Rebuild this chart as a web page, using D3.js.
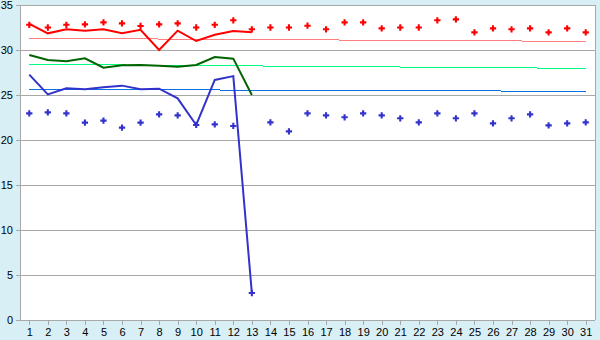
<!DOCTYPE html>
<html>
<head>
<meta charset="utf-8">
<script src="https://cdn.jsdelivr.net/npm/d3@7"></script>
<style>
  body { margin: 0; background: #d9eff6; }
  svg { display: block; }
  .axis text { font-family: "Liberation Sans", Arial, sans-serif; font-size: 11px; fill: #000; }
  .axis path, .axis line { stroke: #a8a8a8; shape-rendering: crispEdges; }
</style>
</head>
<body>
<svg></svg>
<script>
let days = d3.range(1, 32);
let yTicks = [0, 5, 10, 15, 20, 25, 30, 35];

// scattered markers, one per day
let redPoints = [32.8, 32.5, 32.8, 32.85, 33.07, 32.96, 32.67, 32.85, 32.96, 32.5,
  32.8, 33.3, 32.3, 32.5, 32.5, 32.7, 32.3, 33.07, 33.07, 32.4,
  32.5, 32.5, 33.3, 33.4, 31.96, 32.4, 32.3, 32.4, 31.96, 32.4, 31.96];
let bluePoints = [22.96, 23.07, 22.96, 21.93, 22.15, 21.37, 21.93, 22.85, 22.74, 21.67,
  21.74, 21.56, 3.0, 21.96, 20.96, 22.96, 22.74, 22.52, 22.96, 22.74,
  22.41, 21.96, 22.96, 22.41, 22.96, 21.85, 22.41, 22.85, 21.63, 21.85, 21.96];

// thick lines, days 1-13
let redLine = [32.9, 31.85, 32.3, 32.15, 32.3, 31.85, 32.25, 30.0, 32.15, 31.0, 31.7, 32.1, 31.97];
let greenLine = [29.44, 28.9, 28.74, 29.07, 28.04, 28.3, 28.33, 28.26, 28.15, 28.33, 29.22, 29.04, 25.0];
let blueLine = [27.26, 25.07, 25.74, 25.63, 25.85, 26.04, 25.63, 25.7, 24.63, 21.67, 26.67, 27.1, 3.0];

// trend lines, day 1 -> day 31
let redTrend = [31.3, 30.96];
let greenTrend = [28.41, 27.96];
let blueTrend = [25.63, 25.41];

let width = 600;
let height = 340;
let plotLeft = 20, plotRight = 595, plotTop = 5, plotBottom = 320;

let svg = d3.select("svg").attr("width", width).attr("height", height);

let xScale = d3.scalePoint().domain(days).range([plotLeft, plotRight]).padding(0.5);
let yScale = d3.scaleLinear().domain([0, 35]).range([plotBottom, plotTop]);

svg.append("rect")
  .attr("x", plotLeft).attr("y", plotTop)
  .attr("width", plotRight - plotLeft).attr("height", plotBottom - plotTop)
  .attr("fill", "#fff");

// gridlines
svg.append("g")
  .selectAll("line")
  .data(yTicks.filter((d) => d > 0))
  .enter()
  .append("line")
  .attr("x1", plotLeft).attr("x2", plotRight)
  .attr("y1", (d) => yScale(d)).attr("y2", (d) => yScale(d))
  .attr("stroke", "#a8a8a8")
  .attr("shape-rendering", "crispEdges");

svg.append("line")
  .attr("x1", plotRight).attr("x2", plotRight)
  .attr("y1", plotTop).attr("y2", plotBottom)
  .attr("stroke", "#a8a8a8")
  .attr("shape-rendering", "crispEdges");

let yAxis = d3.axisLeft(yScale).tickValues(yTicks).tickSize(4).tickSizeOuter(0).tickPadding(3);
svg.append("g").attr("class", "axis").attr("transform", "translate(" + plotLeft + ",0)").call(yAxis);

let xAxis = d3.axisBottom(xScale).tickSize(5).tickSizeOuter(0).tickPadding(3);
let gx = svg.append("g").attr("class", "axis").attr("transform", "translate(0," + plotBottom + ")").call(xAxis);
gx.select(".domain").attr("d", "M" + plotLeft + ",0.5H" + plotRight);

// trend lines
let trendLine = d3.line()
  .x((d, i) => xScale(i === 0 ? 1 : 31))
  .y((d) => yScale(d));
[[redTrend, "#ff8080"], [greenTrend, "#00ff80"], [blueTrend, "#0a70e6"]].forEach(([vals, color]) => {
  svg.append("path")
    .attr("d", trendLine(vals))
    .attr("fill", "none")
    .attr("stroke", color)
    .attr("stroke-width", 1)
    .attr("shape-rendering", "crispEdges");
});

// thick lines
let line = d3.line()
  .x((d, i) => xScale(days[i]))
  .y((d) => yScale(d));
[[redLine, "#ff0000"], [greenLine, "#006400"], [blueLine, "#3333cc"]].forEach(([vals, color]) => {
  svg.append("path")
    .attr("d", line(vals))
    .attr("fill", "none")
    .attr("stroke", color)
    .attr("stroke-width", 2);
});

// markers
let cross = d3.symbol().type(d3.symbolCross).size(22);
[[redPoints, "#ff0000"], [bluePoints, "#3333cc"]].forEach(([vals, color]) => {
  svg.append("g")
    .selectAll("path")
    .data(vals)
    .enter()
    .append("path")
    .attr("d", cross)
    .attr("transform", (d, i) => "translate(" + xScale(days[i]) + "," + yScale(d) + ")")
    .attr("fill", color);
});
</script>
</body>
</html>
